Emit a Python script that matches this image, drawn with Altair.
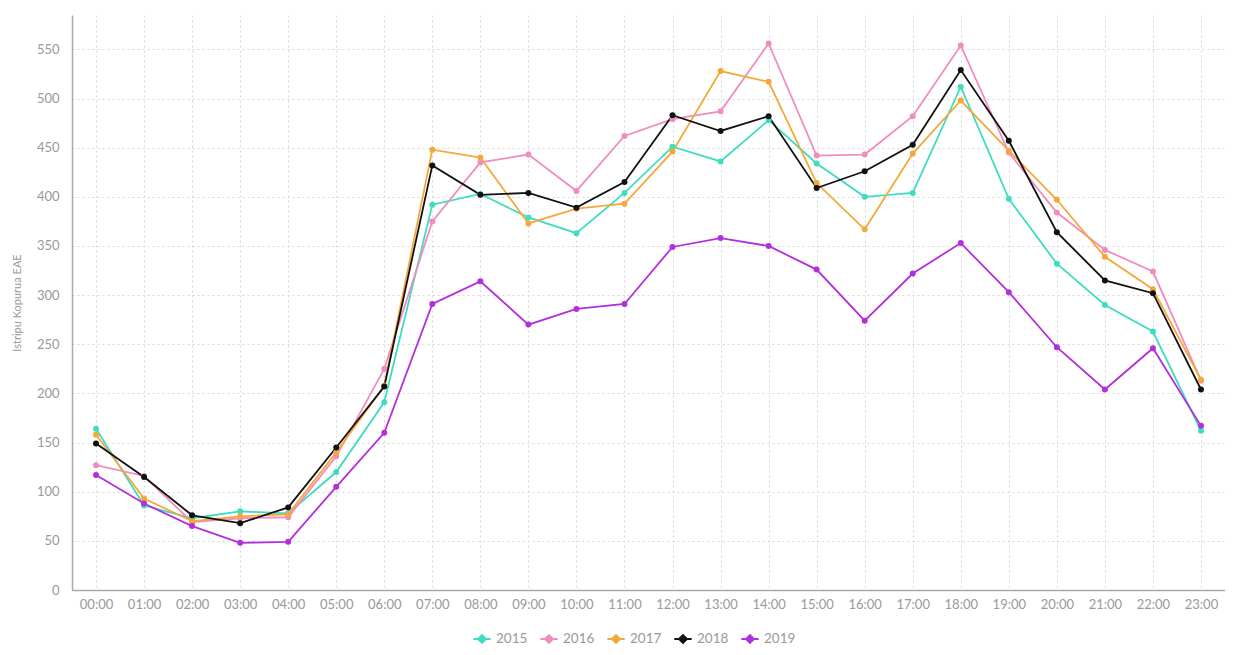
import altair as alt
import pandas as pd

hours = [f"{h:02d}:00" for h in range(24)]
years = ["2015", "2016", "2017", "2018", "2019"]
colors = ["#3fdcc2", "#f08cbf", "#f5a83a", "#111111", "#b42edb"]

v2015 = [164, 86, 73, 80, 78, 120, 191, 392, 403, 379, 363, 404, 451, 436, 478, 434, 400, 404, 512, 398, 332, 290, 263, 162]
v2016 = [127, 116, 69, 73, 74, 136, 225, 375, 435, 443, 406, 462, 479, 487, 556, 442, 443, 482, 554, 445, 384, 346, 324, 213]
v2017 = [158, 93, 70, 75, 77, 140, 208, 448, 440, 373, 388, 393, 446, 528, 517, 414, 367, 444, 498, 447, 397, 339, 306, 214]
v2018 = [149, 115, 76, 68, 84, 145, 207, 432, 402, 404, 389, 415, 483, 467, 482, 409, 426, 453, 529, 457, 364, 315, 302, 204]
v2019 = [117, 88, 65, 48, 49, 105, 160, 291, 314, 270, 286, 291, 349, 358, 350, 326, 274, 322, 353, 303, 247, 204, 246, 167]

series = dict(zip(years, [v2015, v2016, v2017, v2018, v2019]))
rows = []
for y in years:
    for h, v in zip(hours, series[y]):
        rows.append({"hour": h, "year": y, "value": v})
df = pd.DataFrame(rows)

x = alt.X("hour:O", sort=hours, title=None,
          scale=alt.Scale(type="point", padding=0.5),
          axis=alt.Axis(labelAngle=0, labelPadding=8, ticks=False,
                        grid=True, gridDash=[2, 3], gridColor="#d6d6d6"))
y = alt.Y("value:Q", title="Istripu Kopurua EAE",
          scale=alt.Scale(domain=[0, 585], nice=False, zero=True),
          axis=alt.Axis(values=list(range(0, 551, 50)), ticks=False, labelPadding=13,
                        grid=True, gridDash=[2, 3], gridColor="#d6d6d6",
                        titleFontSize=11, titleFontWeight="normal", titlePadding=14))
color = alt.Color("year:N", scale=alt.Scale(domain=years, range=colors),
                  legend=alt.Legend(title=None, orient="none", direction="horizontal",
                                    legendX=400, legendY=614,
                                    symbolType="M-1,0L1,0M0,-0.45L0.45,0L0,0.45L-0.45,0Z",
                                    symbolSize=300, symbolStrokeWidth=2,
                                    labelFontSize=13.5, labelColor="#999999",
                                    labelOffset=4, columnPadding=8, padding=0))

lines = alt.Chart(df).mark_line(strokeWidth=1.8).encode(x=x, y=y, color=color)
points = alt.Chart(df).mark_point(filled=True, size=36, opacity=1).encode(
    x=x, y=y, color=alt.Color("year:N", scale=alt.Scale(domain=years, range=colors), legend=None))

chart = alt.layer(lines, points).properties(
    width=1153, height=575,
    autosize=alt.AutoSizeParams(type="none"),
    padding={"left": 64, "top": 7, "right": 0, "bottom": 57},
).configure(font="Lato").configure_view(stroke=None).configure_axis(
    domainColor="#aaaaaa", domainWidth=1.5, labelColor="#999999", labelFontSize=13,
    titleColor="#999999", labelFont="Lato", titleFont="Lato"
).configure_legend(labelFont="Lato")

chart.save("out.html", embed_options={"renderer": "svg", "actions": False})
